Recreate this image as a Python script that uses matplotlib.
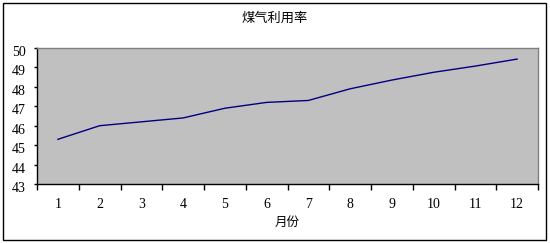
import matplotlib
matplotlib.use("Agg")
import matplotlib.pyplot as plt
from matplotlib.patches import Rectangle
import matplotlib.transforms as mtransforms
import numpy as np

months = ["1", "2", "3", "4", "5", "6", "7", "8", "9", "10", "11", "12"]
values = [45.3, 46.0, 46.2, 46.4, 46.9, 47.2, 47.3, 47.9, 48.35, 48.75, 49.07, 49.43]
yticks = [43, 44, 45, 46, 47, 48, 49, 50]
title = "煤气利用率"
xlabel = "月份"

cjk = ["Noto Sans CJK SC", "DejaVu Sans"]
serif = ["Liberation Serif", "DejaVu Serif"]

fig = plt.figure(figsize=(5.5, 2.43), dpi=100)
fig.patch.set_facecolor("white")
fig.patches.append(Rectangle((3/550, 3/243), 543/550, 237/243, transform=fig.transFigure,
                             fill=False, edgecolor="black", linewidth=1.0))

ax = fig.add_axes([37/550, 59/243, 501/550, 136/243])
ax.set_facecolor("#C0C0C0")
x = np.arange(len(months))
ax.plot(x, values, color="#000080", linewidth=1.0)

ax.set_xlim(-0.5, len(months) - 0.5)
ax.set_ylim(43, 50)
ax.set_yticks(yticks)
ax.set_yticklabels([str(v) for v in yticks], family=serif, fontsize=10)
ax.tick_params(axis="y", length=2, width=1, color="black", direction="out", pad=6)
offset = mtransforms.ScaledTranslation(0, -3/100, fig.dpi_scale_trans)
for lbl in ax.get_yticklabels():
    lbl.set_transform(lbl.get_transform() + offset)

ax.set_xticks(x)
ax.set_xticklabels(months, family=serif, fontsize=10)
ax.tick_params(axis="x", which="major", length=0, pad=10)
ax.set_xticks(np.arange(-0.5, len(months) + 0.5, 1), minor=True)
ax.tick_params(axis="x", which="minor", length=4, width=1, color="black", direction="out")

for s in ["top", "right"]:
    ax.spines[s].set_color("#808080")
    ax.spines[s].set_linewidth(1.0)
for s in ["left", "bottom"]:
    ax.spines[s].set_color("black")
    ax.spines[s].set_linewidth(1.0)

fig.text(274.5/550, 1 - 18/243, title, family=cjk, fontsize=9.5, ha="center", va="center")
fig.text(287/550, 1 - 222.5/243, xlabel, family=cjk, fontsize=9, ha="center", va="center")

fig.savefig("out.png", dpi=100)
